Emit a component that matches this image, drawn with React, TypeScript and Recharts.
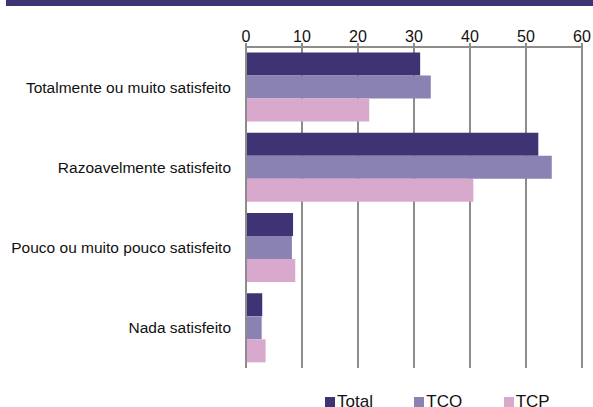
import React from 'react';
import { BarChart, Bar, XAxis, YAxis, CartesianGrid, Legend } from 'recharts';

const categories = [
  'Totalmente ou muito satisfeito',
  'Razoavelmente satisfeito',
  'Pouco ou muito pouco satisfeito',
  'Nada satisfeito',
];
const total = [31.1, 52.2, 8.4, 2.9];
const tco = [33.0, 54.6, 8.2, 2.8];
const tcp = [22.0, 40.6, 8.8, 3.5];
const xTicks = [0, 10, 20, 30, 40, 50, 60];
const edgeTicks = [0, 1, 2, 3, 4];

const SERIES = [
  { key: 'Total', color: '#3F3374' },
  { key: 'TCO', color: '#8B82B4' },
  { key: 'TCP', color: '#D8A9CC' },
];

const data = categories.map((name, i) => ({ name, Total: total[i], TCO: tco[i], TCP: tcp[i] }));

const FONT = '"Liberation Sans", Arial, sans-serif';
const GRAY = '#8C8C8C';

const LegendContent = () => (
  <div style={{ display: 'flex', paddingLeft: 325, fontFamily: FONT, fontSize: 17, color: '#111', lineHeight: '17px' }}>
    {SERIES.map(s => (
      <div key={s.key} style={{ width: 94, display: 'flex', alignItems: 'flex-start' }}>
        <span style={{ display: 'inline-block', width: 10, height: 10, background: s.color, marginRight: 2, marginTop: 4 }} />
        <span>{s.key}</span>
      </div>
    ))}
  </div>
);

const App = () => {
  return (
    <div style={{ position: 'absolute', left: 0, top: 0, width: 593, height: 407, background: '#fff', overflow: 'hidden' }}>
      <BarChart
        width={593}
        height={407}
        data={data}
        layout="vertical"
        margin={{ top: 0, right: 11, left: 0, bottom: 39 }}
        barCategoryGap="7%"
        barGap={0}
        style={{ overflow: 'visible' }}
      >
        <CartesianGrid horizontal={false} stroke={GRAY} strokeWidth={2} />
        <XAxis
          type="number"
          orientation="top"
          domain={[0, 60]}
          ticks={xTicks}
          height={47}
          stroke={GRAY}
          strokeWidth={2}
          tickSize={4}
          tickMargin={1}
          tick={{ fill: '#111', fontSize: 16, fontFamily: FONT }}
          interval={0}
        />
        <YAxis
          yAxisId="edge"
          type="number"
          domain={[0, 4]}
          ticks={edgeTicks}
          width={0}
          tick={false}
          axisLine={false}
          tickSize={6}
          tickLine={{ stroke: GRAY, strokeWidth: 2 }}
        />
        <YAxis
          type="category"
          dataKey="name"
          width={246}
          stroke={GRAY}
          strokeWidth={2}
          tickLine={false}
          tickSize={6}
          tickMargin={9}
          tick={{ fill: '#111', fontSize: 15.5, fontFamily: FONT }}
          interval={0}
        />
        <Legend
          verticalAlign="middle"
          align="center"
          wrapperStyle={{ top: 393, left: 0, width: 593 }}
          content={<LegendContent />}
        />
        {SERIES.map(s => (
          <Bar key={s.key} dataKey={s.key} fill={s.color} isAnimationActive={false} />
        ))}
      </BarChart>
      <div style={{ position: 'absolute', left: 6, top: 0, width: 587, height: 6, background: '#3F3374', zIndex: 5 }} />
    </div>
  );
};

export default App;
